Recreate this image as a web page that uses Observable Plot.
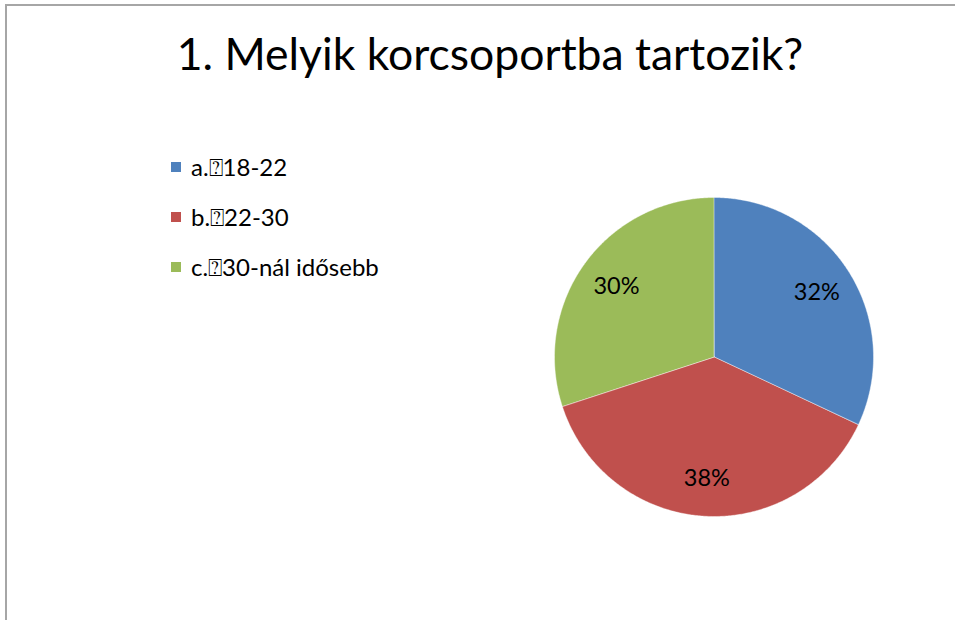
<!DOCTYPE html>
<html>
<head>
<meta charset="utf-8">
<script src="https://cdn.jsdelivr.net/npm/d3@7"></script>
<script src="https://cdn.jsdelivr.net/npm/@observablehq/plot@0.6"></script>
<style>
  html, body { margin: 0; padding: 0; background: #fff; overflow: hidden; }
  #wrap { position: relative; width: 955px; height: 620px; overflow: hidden; font-family: Lato, "Open Sans", sans-serif; color: #000; }
  #frame { position: absolute; left: 5px; top: 4px; width: 1000px; height: 700px; border: 2px solid #a6a6a6; box-sizing: border-box; }
  #title { position: absolute; left: 0; width: 980px; top: 28px; text-align: center; font-size: 44.5px; line-height: 50px; white-space: nowrap; }
  #legend { position: absolute; left: 171px; top: 155px; }
  .item { display: flex; align-items: center; height: 24px; margin-bottom: 26px; font-size: 24px; white-space: nowrap; }
  .sw { width: 10px; height: 10px; margin-right: 10px; }
  #chart { position: absolute; left: 0; top: 0; }
</style>
</head>
<body>
<div id="wrap">
  <div id="frame"></div>
  <div id="chart"></div>
  <div id="title"></div>
  <div id="legend"></div>
</div>
<script>
const titleText = "1. Melyik korcsoportba tartozik?";
const categories = ["a.\u237018-22", "b.\u237022-30", "c.\u237030-nál idősebb"];
const values = [32, 38, 30];
const labels = ["32%", "38%", "30%"];
const colors = ["#4F81BD", "#C0504D", "#9BBB59"];

document.getElementById("title").textContent = titleText;

const legend = document.getElementById("legend");
categories.forEach((c, i) => {
  const row = document.createElement("div");
  row.className = "item";
  const sw = document.createElement("div");
  sw.className = "sw";
  sw.style.background = colors[i];
  const t = document.createElement("span");
  t.textContent = c;
  row.appendChild(sw);
  row.appendChild(t);
  legend.appendChild(row);
});

// pie geometry from the data (angles from 12 o'clock, clockwise)
const arcs = d3.pie().sort(null).value(d => d)(values);
const slicePts = [];
arcs.forEach((a, i) => {
  const n = Math.max(2, Math.ceil((a.endAngle - a.startAngle) / (Math.PI / 360)));
  for (let k = 0; k <= n; k++) {
    const t = a.startAngle + (a.endAngle - a.startAngle) * k / n;
    slicePts.push({cat: categories[i], x: Math.sin(t), y: Math.cos(t)});
  }
});
const labelPts = arcs.map((a, i) => {
  const m = (a.startAngle + a.endAngle) / 2;
  return {cat: categories[i], label: labels[i], x: 0.76 * Math.sin(m), y: 0.76 * Math.cos(m)};
});

const plot = Plot.plot({
  width: 955,
  height: 620,
  margin: 0,
  x: {domain: [-1, 1], range: [554.5, 873.5], axis: null},
  y: {domain: [-1, 1], range: [516.5, 197.5], axis: null},
  color: {domain: categories, range: colors},
  style: {background: "transparent", overflow: "visible"},
  marks: [
    Plot.area(slicePts, {x1: "x", y1: "y", x2: 0, y2: 0, z: "cat", fill: "cat", stroke: "#ffffff", strokeWidth: 0.6, strokeOpacity: 0.7, curve: "linear"}),
    Plot.text(labelPts, {x: "x", y: "y", text: "label", fontSize: 23.5, fill: "#000", fontFamily: "Lato, 'Open Sans', sans-serif"})
  ]
});
document.getElementById("chart").appendChild(plot);
</script>
</body>
</html>
